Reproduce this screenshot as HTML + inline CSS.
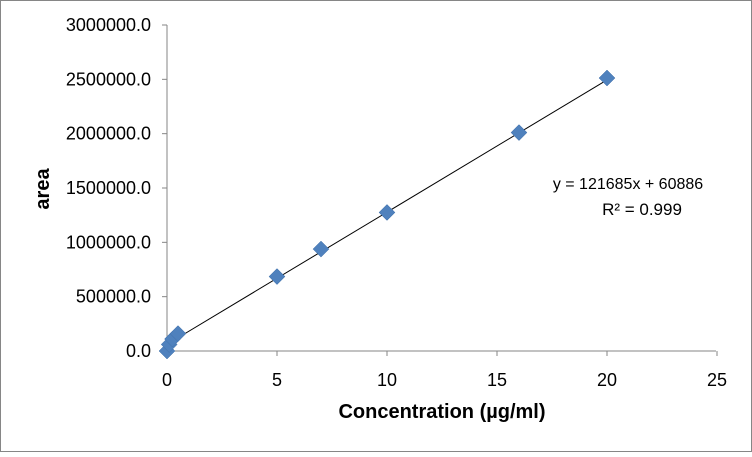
<!DOCTYPE html>
<html><head><meta charset="utf-8"><style>
body{margin:0;background:#fff}
svg text{font-family:"Liberation Sans",Calibri,sans-serif;fill:#000}
</style></head><body>
<svg width="752" height="452">
<rect x="0.5" y="0.5" width="751" height="451" fill="#fff" stroke="#868686"/>
<g id="g"></g>
</svg>
<script>
const xVals=[0,0.1,0.25,0.5,5,7,10,16,20];
const yVals=[0,60000,110000,160000,685000,938000,1275000,2010000,2512000];
const yTicks=[0,500000,1000000,1500000,2000000,2500000,3000000];
const xTicks=[0,5,10,15,20,25];
const slope=121685, intercept=60886;
const X=v=>167+v*22, Y=v=>351-v*(326/3000000);
const g=document.getElementById('g');const NS='http://www.w3.org/2000/svg';
function mk(t,a,txt){const e=document.createElementNS(NS,t);for(const k in a)e.setAttribute(k,a[k]);if(txt!==undefined)e.textContent=txt;g.appendChild(e);return e;}
let e;
e=mk('line',{x1:167,y1:25,x2:167,y2:351,stroke:'#868686'});

e=mk('line',{x1:167,y1:351,x2:716,y2:351,stroke:'#868686'});

yTicks.forEach(v=>{e=mk('line',{x1:162,x2:167,y1:Y(v),y2:Y(v),stroke:'#868686'});

e=mk('text',{x:151,y:Y(v)+6,'text-anchor':'end',style:'font-size:18px'},v.toFixed(1));
});
xTicks.forEach(v=>{e=mk('line',{x1:X(v),x2:X(v),y1:351,y2:356,stroke:'#868686'});

e=mk('text',{x:X(v),y:386,'text-anchor':'middle',style:'font-size:18px'},v);
});
e=mk('line',{x1:X(0),y1:Y(intercept),x2:X(20),y2:Y(slope*20+intercept),stroke:'#000','stroke-width':1});

xVals.forEach((v,i)=>{const cx=X(v),cy=Y(yVals[i]);
e=mk('polygon',{points:`${cx},${cy-8} ${cx+8},${cy} ${cx},${cy+8} ${cx-8},${cy}`,fill:'#4f81bd',stroke:'#3f6fa8','stroke-width':0.5});
});
e=mk('text',{x:628,y:189,'text-anchor':'middle',style:'font-size:16px'},'y = 121685x + 60886');

e=mk('text',{x:642,y:215,'text-anchor':'middle',style:'font-size:17px'},'R² = 0.999');

e=mk('text',{x:442,y:418,'text-anchor':'middle','font-weight':'bold',style:'font-size:20px'},'Concentration (µg/ml)');

e=mk('text',{x:0,y:0,'text-anchor':'middle','font-weight':'bold',style:'font-size:20px',transform:'translate(49,189) rotate(-90)'},'area');

</script>
</body></html>
